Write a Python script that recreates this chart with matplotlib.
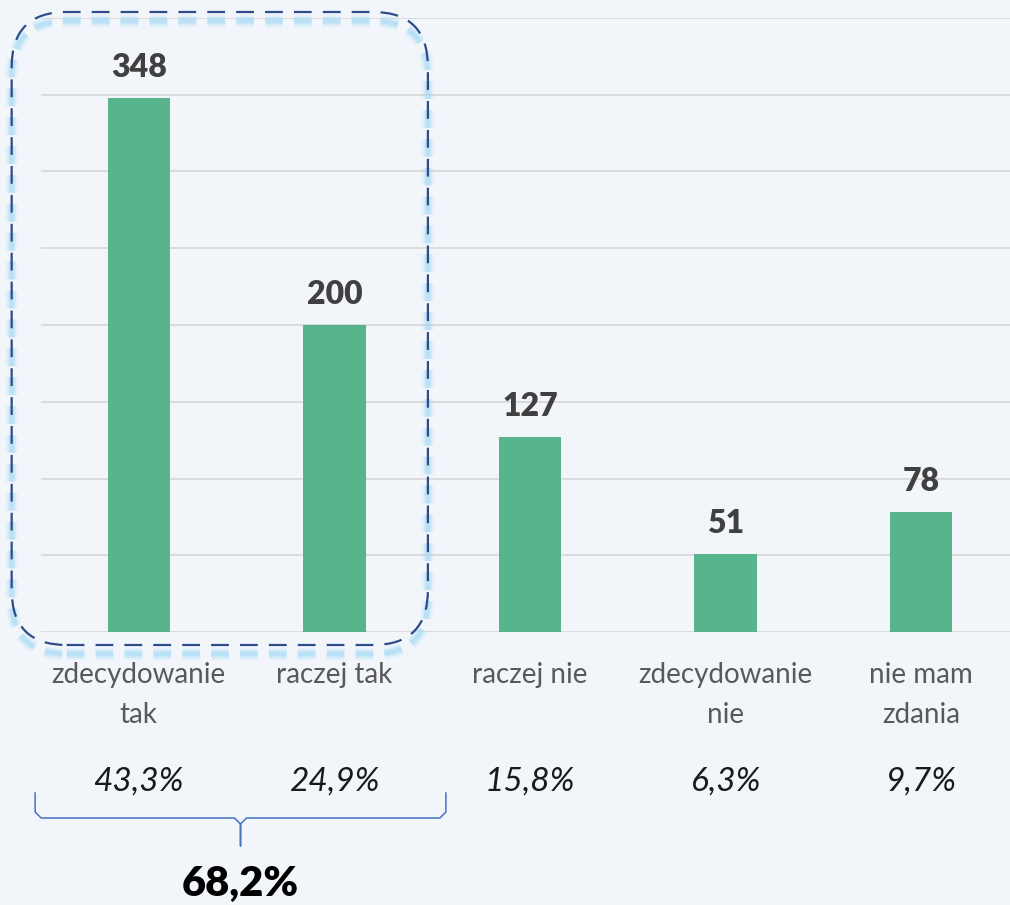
import matplotlib.pyplot as plt
import numpy as np
from matplotlib.patches import FancyBboxPatch
from matplotlib.transforms import blended_transform_factory

plt.rcParams['font.family'] = ['Lato', 'DejaVu Sans']

categories = ['zdecydowanie\ntak', 'raczej tak', 'raczej nie', 'zdecydowanie\nnie', 'nie mam\nzdania']
counts = [348, 200, 127, 51, 78]
shares = ['43,3%', '24,9%', '15,8%', '6,3%', '9,7%']
total_yes = '68,2%'

bg = '#F2F6FB'
bar_col = '#58B48B'

fig = plt.figure(figsize=(10.1, 9.05), dpi=100, facecolor=bg)
ax = fig.add_axes([41 / 1010, 1 - 632 / 905, 978 / 1010, 614 / 905])
ax.set_facecolor(bg)

x = np.arange(len(categories))
ax.bar(x, counts, width=0.32, color=bar_col, zorder=3)
ax.set_xlim(-0.5, len(categories) - 0.5)
ax.set_ylim(0, 400)
ax.set_yticks(np.arange(0, 401, 50))
ax.grid(axis='y', color='#D9D9D9', lw=1.3, zorder=0)
ax.tick_params(left=False, labelleft=False, bottom=False, labelbottom=False)
for s in ax.spines.values():
    s.set_visible(False)

for xi, v in zip(x, counts):
    ax.annotate(str(v), (xi, v), xytext=(0, 22), textcoords='offset points',
                ha='center', va='center', fontsize=23, fontweight='heavy', color='#404040')

tr = blended_transform_factory(ax.transData, fig.transFigure)
for xi, lab, sh in zip(x, categories, shares):
    ax.text(xi, 1 - 675 / 905, lab.split('\n')[0], transform=tr, ha='center', va='center',
            fontsize=20, color='#595959')
    if '\n' in lab:
        ax.text(xi, 1 - 715 / 905, lab.split('\n')[1], transform=tr, ha='center', va='center',
                fontsize=20, color='#595959')
    ax.text(xi, 1 - 782 / 905, sh, transform=tr, ha='center', va='center',
            fontsize=24, style='italic', color='#1a1a1a')

# overlay in pixel coordinates for decorations
ov = fig.add_axes([0, 0, 1, 1], facecolor='none')
ov.set_xlim(0, 1010)
ov.set_ylim(0, 905)
ov.axis('off')

def px(xd, yd):
    return ax.transData.transform((xd, yd))

# bracket under first two categories
bx0 = px(x[0] - 0.53, 0)[0]
bx1 = px(x[1] + 0.57, 0)[0]
bm = (bx0 + bx1) / 2
ytop, ymid, ytip = 905 - 793, 905 - 818, 905 - 846
r = 6
bxs = [bx0, bx0, bx0 + r, bm - r, bm, bm, bm, bm + r, bx1 - r, bx1, bx1]
bys = [ytop, ymid + r, ymid, ymid, ymid - r, ytip, ymid - r, ymid, ymid, ymid + r, ytop]
ov.plot(bxs, bys, color='#4472C4', lw=1.1)
ov.text(bm, 905 - 884, total_yes, ha='center', va='center', fontsize=30,
        fontweight='heavy', color='black')

# dashed rounded box with glow
l = px(x[0] - 0.65, 0)[0]
rr = px(x[1] + 0.478, 0)[0]
b = 905 - 645
t = 905 - 12
pad = 55
for lw, a in [(9, 0.15), (6, 0.25), (3.5, 0.45)]:
    ov.add_patch(FancyBboxPatch((l + pad, b - 9 + pad), rr - l - 2 * pad, t - b - 2 * pad,
                                boxstyle=f'round,pad={pad}', fc='none', ec='#9ED8F5',
                                lw=lw, alpha=a, ls=(0, (8 * 1.6 / lw, 5 * 1.6 / lw))))
ov.add_patch(FancyBboxPatch((l + pad, b + pad), rr - l - 2 * pad, t - b - 2 * pad,
                            boxstyle=f'round,pad={pad}', fc='none', ec='#2E4C8A',
                            lw=1.6, ls=(0, (8, 5))))

fig.savefig('out.png', dpi=100, facecolor=bg)
